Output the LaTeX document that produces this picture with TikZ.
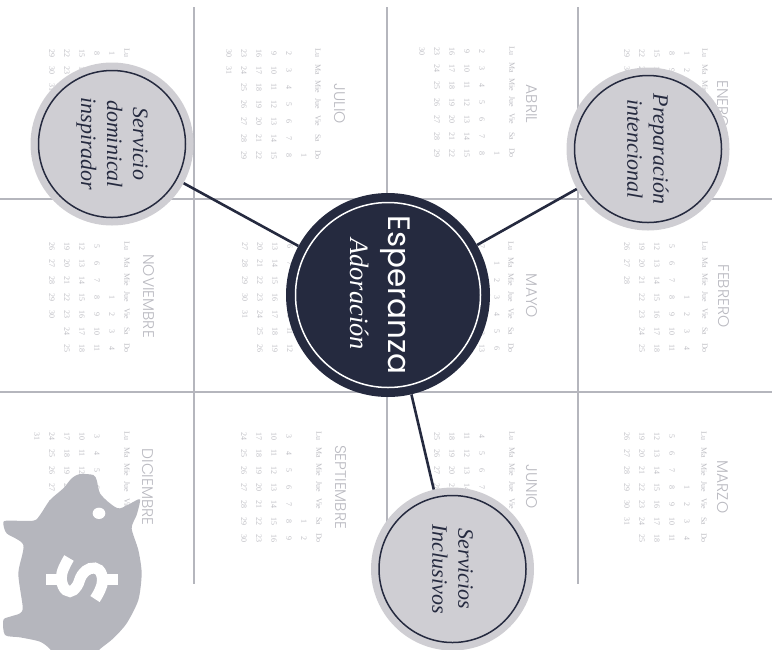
\documentclass[tikz,border=0pt]{standalone}
\usepackage{fontspec}
\setmainfont{Liberation Serif}
\newfontfamily\titlefont{Poppins}[UprightFont=* Light]
\newfontfamily\headfont{Poppins}
\definecolor{navy}{HTML}{252A3F}
\definecolor{pale}{HTML}{CFCED3}
\definecolor{gridc}{HTML}{B5B6BD}
\definecolor{dayc}{HTML}{BDBDC3}
\definecolor{titlec}{HTML}{BABAC1}
\tikzset{
  gridline/.style={gridc,line width=2pt},
  daytext/.style={inner sep=0pt,rotate=-90,text=dayc,font=\fontsize{8}{9}\selectfont},
  monthtitle/.style={inner sep=0pt,rotate=-90,text=titlec,font=\titlefont\fontsize{15.5}{17}\selectfont},
  disc/.style={circle,fill=pale,inner sep=0pt,minimum size=163pt},
  ringnode/.style={circle,draw=navy,line width=1.5pt,inner sep=0pt,minimum size=147pt,rotate=-90,align=center,text=navy,font=\itshape\fontsize{22}{26}\selectfont},
  link/.style={navy,line width=2.6pt},
}
\newcommand{\putcal}[4]{%
  \pgfmathtruncatemacro\hid{or(or(veclen(#1-388,#2-295)<97,veclen(#1-648,#2-149)<77),or(veclen(#1-112,#2-144)<77,veclen(#1-452.5,#2-569)<77))}%
  \ifnum\hid=0 \node[daytext] (#3) at (#1,#2) {#4};\fi}
\newcommand{\calmonth}[7]{% id, header x, first row x, y0, offset, days, max y
  \foreach \h [count=\c from 0] in {Lu,Ma,Mie,Jue,Vie,Sa,Do}{%
    \pgfmathsetmacro\yy{#4+17*\c}%
    \ifdim\yy pt<#7pt \putcal{#2}{\yy}{#1-h\c}{\h}\fi}%
  \foreach \d in {1,...,#6}{%
    \pgfmathtruncatemacro\p{#5+\d-1}%
    \pgfmathtruncatemacro\r{floor(\p/7)}%
    \pgfmathtruncatemacro\k{mod(\p,7)}%
    \pgfmathsetmacro\xx{#3-15*\r}%
    \pgfmathsetmacro\yy{#4+17*\k}%
    \ifdim\yy pt<#7pt \putcal{\xx}{\yy}{#1-d\d}{\d}\fi}%
}
\begin{document}
\begin{tikzpicture}[x=1pt,y=-1pt]
\useasboundingbox (0,0) rectangle (778,649);
\clip (0,0) rectangle (778,649);
% grid
\coordinate (v1a) at (194,7); \coordinate (v1b) at (194,584);
\coordinate (v2a) at (387,7); \coordinate (v2b) at (387,530);
\coordinate (v3a) at (578,7); \coordinate (v3b) at (578,584);
\coordinate (h1a) at (0,199); \coordinate (h1b) at (772,199);
\coordinate (h2a) at (0,392); \coordinate (h2b) at (772,392);
\draw[gridline] (v1a) -- (v1b);
\draw[gridline] (v2a) -- (v2b);
\draw[gridline] (v3a) -- (v3b);
\draw[gridline] (h1a) -- (h1b);
\draw[gridline] (h2a) -- (h2b);
% calendars
\calmonth{ene}{705}{687}{53}{0}{31}{900}
\calmonth{abr}{512}{497}{51}{6}{30}{900}
\calmonth{jul}{318}{304}{53}{6}{31}{900}
\calmonth{oct}{127}{112}{53}{0}{31}{900}
\calmonth{feb}{705}{687}{246}{3}{28}{900}
\calmonth{may}{511}{497}{246}{1}{31}{900}
\calmonth{ago}{320}{305}{246}{2}{31}{900}
\calmonth{nov}{127}{112}{246}{3}{30}{900}
\calmonth{mar}{704}{687}{436}{3}{31}{900}
\calmonth{jun}{512}{497}{436}{4}{30}{900}
\calmonth{sep}{319}{304}{436}{5}{30}{900}
\calmonth{dic}{127}{112}{436}{5}{31}{510}
\node[monthtitle] (tene) at (723,104) {ENERO};
\node[monthtitle] (tabr) at (532,104) {ABRIL};
\node[monthtitle] (tjul) at (340,104) {JULIO};
\node[monthtitle] (tfeb) at (724,296) {FEBRERO};
\node[monthtitle] (tmay) at (532,296) {MAYO};
\node[monthtitle] (tnov) at (149,296) {NOVIEMBRE};
\node[monthtitle] (tmar) at (723,487) {MARZO};
\node[monthtitle] (tjun) at (532,487) {JUNIO};
\node[monthtitle] (tsep) at (341,487) {SEPTIEMBRE};
\node[monthtitle] (tdic) at (148,487) {DICIEMBRE};
% hubs
\node[circle,fill=navy,inner sep=0pt,minimum size=204pt] (hub) at (388,295) {};
\node[circle,draw=white,line width=1.5pt,inner sep=0pt,minimum size=185pt] (hubring) at (hub) {};
\node[inner sep=0pt,rotate=-90,text=white,font=\headfont\fontsize{31}{34}\selectfont] (hubtitle) at (395,295) {Esperanza};
\node[inner sep=0pt,rotate=-90,text=white,font=\itshape\fontsize{26.5}{30}\selectfont] (hubsub) at (360,294) {Adoración};
\node[disc] (prep) at (648,149) {};
\node[ringnode] (prept) at (prep) {Preparación\\intencional};
\node[disc] (serv) at (112,144) {};
\node[ringnode] (servt) at (serv) {Servicio\\dominical\\inspirador};
\node[disc] (incl) at (452.5,569) {};
\node[ringnode] (inclt) at (incl) {Servicios\\Inclusivos};
\draw[link] (hub) -- (prep);
\draw[link] (hub) -- (serv);
\draw[link] (hub) -- (incl);
% piggy bank
\begin{scope}[shift={(0,400)},scale=0.33333]
\fill[gridc] plot[smooth cycle,tension=.45] coordinates {(215,235) (240,222) (280,225) (290,240) (300,280) (330,310) (360,325) (415,298) (420,305) (410,345) (395,385) (415,450) (425,520) (415,600) (380,670) (340,715) (300,747) (270,775) (170,775) (150,747) (120,725) (60,712) (15,705) (10,660) (30,650) (60,640) (68,620) (55,520) (70,435) (20,400) (10,370) (20,362) (100,362) (120,345) (150,300) (190,265)};
\fill[white] (297,340) ellipse [x radius=19,y radius=17];
\end{scope}
% dollar sign of the piggy bank
\fill[white] (46,573.5) rectangle (59,584.5);
\fill[white] (105,573.5) rectangle (117.5,584.5);
\draw[white,line width=11pt] plot[smooth,tension=.7] coordinates {(69,558) (62,573) (63,586) (70,591.5) (77,586) (82,575) (90,568.5) (99,570) (102.5,580) (100,590) (95,599)};
\end{tikzpicture}
\end{document}
